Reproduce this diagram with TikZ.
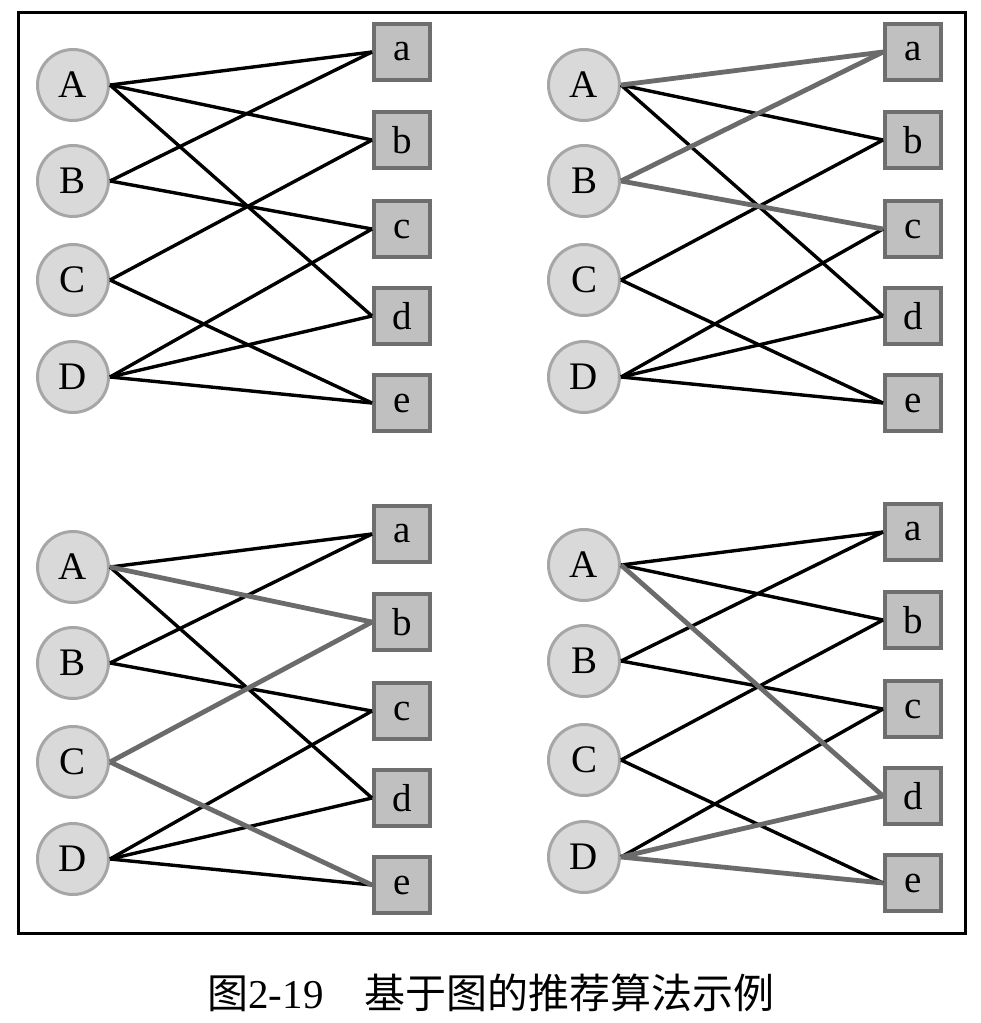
\documentclass[tikz,border=0pt]{standalone}
\usepackage{fontspec}
\setmainfont{Liberation Serif}
\newfontfamily\cjk{Noto Sans CJK SC}
\definecolor{circfill}{HTML}{D9D9D9}
\definecolor{circborder}{HTML}{A6A6A6}
\definecolor{boxfill}{HTML}{C0C0C0}
\definecolor{boxborder}{HTML}{6E6E6E}
\definecolor{hotgray}{HTML}{6B6B6B}
\tikzset{
  user/.style={circle, draw=circborder, fill=circfill, line width=3pt,
    minimum size=71pt, inner sep=0pt, font=\fontsize{39}{40}\selectfont},
  item/.style={rectangle, draw=boxborder, fill=boxfill, line width=4pt,
    minimum size=56pt, inner sep=0pt, font=\fontsize{39}{40}\selectfont},
  link/.style={black, line width=3.4pt},
  hot/.style={hotgray, line width=4.8pt},
  frame/.style={black, line width=3pt},
}
% one bipartite panel: users A-D on the left, items a-e on the right
\newcommand\bipanel[3]{%
  \begin{scope}[shift={(#2,#3)}]
    \node[user] (A#1) at (73,85)  {A};
    \node[user] (B#1) at (73,181) {B};
    \node[user] (C#1) at (73,280) {C};
    \node[user] (D#1) at (73,377) {D};
    \node[item] (a#1) at (402,52)  {a};
    \node[item] (b#1) at (402,140) {b};
    \node[item] (c#1) at (402,229) {c};
    \node[item] (d#1) at (402,316) {d};
    \node[item] (e#1) at (402,403) {e};
  \end{scope}}
\begin{document}
\begin{tikzpicture}[x=1pt, y=-1pt]
  \useasboundingbox (0,0) rectangle (981,1023);
  \draw[frame] (18,12) rectangle (965,933);

  \bipanel{1}{0}{0}
  \bipanel{2}{511}{0}
  \bipanel{3}{0}{482}
  \bipanel{4}{511}{480}

  \foreach \u/\v/\s in {A/a/link, A/b/link, A/d/link, B/a/link, B/c/link,
                        C/b/link, C/e/link, D/c/link, D/d/link, D/e/link}
    \draw[\s] (\u1.east) -- (\v1.west);

  \foreach \u/\v/\s in {A/b/link, A/d/link, C/b/link, C/e/link,
                        D/c/link, D/d/link, D/e/link, A/a/hot, B/a/hot, B/c/hot}
    \draw[\s] (\u2.east) -- (\v2.west);

  \foreach \u/\v/\s in {A/a/link, A/d/link, B/a/link, B/c/link,
                        D/c/link, D/d/link, D/e/link, A/b/hot, C/b/hot, C/e/hot}
    \draw[\s] (\u3.east) -- (\v3.west);

  \foreach \u/\v/\s in {A/a/link, A/b/link, B/a/link, B/c/link, C/b/link,
                        C/e/link, D/c/link, A/d/hot, D/d/hot, D/e/hot}
    \draw[\s] (\u4.east) -- (\v4.west);

  \node[font=\fontsize{41}{44}\selectfont] (caption) at (491,993)
    {{\cjk 图}2-19{\cjk 　基于图的推荐算法示例}};
\end{tikzpicture}
\end{document}
